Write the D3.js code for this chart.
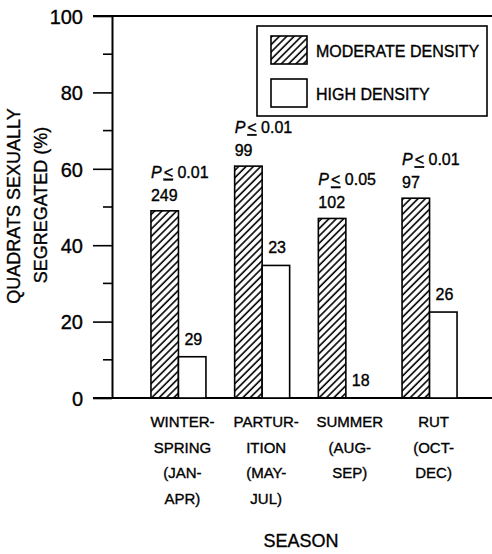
<!DOCTYPE html>
<html>
<head>
<meta charset="utf-8">
<script src="https://cdn.jsdelivr.net/npm/d3@7"></script>
<style>
body{margin:0;background:#fff;}
text{font-family:"Liberation Sans",Arial,Helvetica,sans-serif;fill:#000;stroke:#000;stroke-width:0.35px;}
</style>
</head>
<body>
<script>
//DATA
var seasons=["WINTER-SPRING","PARTURITION","SUMMER","RUT"];
var seasonLines=[["WINTER-","SPRING","(JAN-","APR)"],["PARTUR-","ITION","(MAY-","JUL)"],["SUMMER","(AUG-","SEP)"],["RUT","(OCT-","DEC)"]];
var moderate=[49,60.7,47,52.3];
var high=[10.8,34.7,0,22.5];
var moderateN=[249,99,102,97];
var highN=[29,23,18,26];
var pValues=["0.01","0.01","0.05","0.01"];
var yTicks=[0,20,40,60,80,100];
var yMinor=[10,30,50,70,90];
var series=["MODERATE DENSITY","HIGH DENSITY"];

//CANVAS
var svg_width=492;
var svg_height=554;

var svg=d3.select("body")
.append("svg")
.attr("width",svg_width)
.attr("height",svg_height);

var defs=svg.append("defs");
defs.append("pattern")
.attr("id","hatch")
.attr("patternUnits","userSpaceOnUse")
.attr("width",5.2)
.attr("height",10)
.attr("patternTransform","rotate(45)")
.append("line")
.attr("x1",1).attr("y1",0)
.attr("x2",1).attr("y2",10)
.attr("stroke","#000")
.attr("stroke-width",1.6);

//SCALES
var y=d3.scaleLinear().domain([0,100]).range([398,16]);
var x0=d3.scaleBand().domain(seasons).range([136.6,471.4]).paddingInner(0.343).paddingOuter(0.1715);
var x1=d3.scaleBand().domain(["mod","high"]).range([0,x0.bandwidth()]);

var data=seasons.map(function(s,i){
    return {season:s,mod:moderate[i],high:high[i],modN:moderateN[i],highN:highN[i],p:pValues[i]};
});

//AXES
var yAxis=d3.axisLeft(y).tickValues(yTicks).tickSize(19).tickSizeOuter(0).tickPadding(10);
var gy=svg.append("g").attr("transform","translate(112,0)").call(yAxis);
gy.select(".domain").attr("stroke","#000").attr("stroke-width",2);
gy.selectAll(".tick line").attr("stroke","#000").attr("stroke-width",1.6);
gy.selectAll(".tick text").attr("font-size",20).attr("font-family","'Liberation Sans',Arial,sans-serif").attr("dy","0.36em");

gy.selectAll(".minor")
.data(yMinor)
.enter()
.append("line")
.attr("class","minor")
.attr("x1",-9).attr("x2",0)
.attr("y1",function(d){return y(d)})
.attr("y2",function(d){return y(d)})
.attr("stroke","#000")
.attr("stroke-width",1.6);

// top and bottom frame lines
svg.append("line")
.attr("x1",93).attr("x2",492)
.attr("y1",y(100)).attr("y2",y(100))
.attr("stroke","#000").attr("stroke-width",2);
svg.append("line")
.attr("x1",93).attr("x2",492)
.attr("y1",y(0)).attr("y2",y(0))
.attr("stroke","#000").attr("stroke-width",2);

//BARS
var groups=svg.selectAll(".grp")
.data(data)
.enter()
.append("g")
.attr("class","grp")
.attr("transform",function(d){return "translate("+x0(d.season)+",0)"});

groups.append("rect")
.attr("x",x1("mod"))
.attr("y",function(d){return y(d.mod)})
.attr("width",x1.bandwidth())
.attr("height",function(d){return y(0)-y(d.mod)})
.attr("fill","url(#hatch)")
.attr("stroke","#000")
.attr("stroke-width",1.6);

groups.filter(function(d){return d.high>0})
.append("rect")
.attr("x",x1("high"))
.attr("y",function(d){return y(d.high)})
.attr("width",x1.bandwidth())
.attr("height",function(d){return y(0)-y(d.high)})
.attr("fill","#fff")
.attr("stroke","#000")
.attr("stroke-width",1.6);

//LABELS
groups.append("text")
.attr("x",x1("mod"))
.attr("y",function(d){return y(d.mod)-10})
.attr("font-size",16)
.text(function(d){return d.modN});

var pt=groups.append("text")
.attr("x",x1("mod"))
.attr("y",function(d){return y(d.mod)-33})
.attr("font-size",16);
pt.append("tspan").attr("font-style","italic").text("P");
pt.append("tspan").attr("dx",2).attr("text-decoration","underline").text("<");
pt.append("tspan").text(function(d){return " "+d.p});

groups.append("text")
.attr("x",x1("high")+6)
.attr("y",function(d){return y(d.high)-12})
.attr("font-size",16)
.text(function(d){return d.highN});

//X LABELS
var xl=groups.append("text")
.attr("x",x0.bandwidth()/2+4)
.attr("y",427)
.attr("text-anchor","middle")
.attr("font-size",15);
xl.selectAll("tspan")
.data(function(d,i){return seasonLines[i]})
.enter()
.append("tspan")
.attr("x",x0.bandwidth()/2+4)
.attr("dy",function(d,i){return i==0?0:25.7})
.text(function(d){return d});

svg.append("text")
.attr("x",301)
.attr("y",547)
.attr("text-anchor","middle")
.attr("font-size",18)
.text("SEASON");

//Y TITLE
svg.append("text")
.attr("transform","translate(20,206) rotate(-90)")
.attr("text-anchor","middle")
.attr("font-size",18)
.text("QUADRATS SEXUALLY");
svg.append("text")
.attr("transform","translate(47,205) rotate(-90)")
.attr("text-anchor","middle")
.attr("font-size",18)
.text("SEGREGATED (%)");

//LEGEND
var legend=svg.append("g");
legend.append("rect")
.attr("x",257).attr("y",26)
.attr("width",230).attr("height",90)
.attr("fill","#fff")
.attr("stroke","#000")
.attr("stroke-width",1.6);

var items=legend.selectAll(".item")
.data(series)
.enter()
.append("g")
.attr("class","item")
.attr("transform",function(d,i){return "translate(271,"+(36+i*43)+")"});

items.append("rect")
.attr("width",36).attr("height",28)
.attr("fill",function(d,i){return i==0?"url(#hatch)":"#fff"})
.attr("stroke","#000")
.attr("stroke-width",1.6);

items.append("text")
.attr("x",45)
.attr("y",21)
.attr("font-size",16)
.text(function(d){return d});
</script>
</body>
</html>
